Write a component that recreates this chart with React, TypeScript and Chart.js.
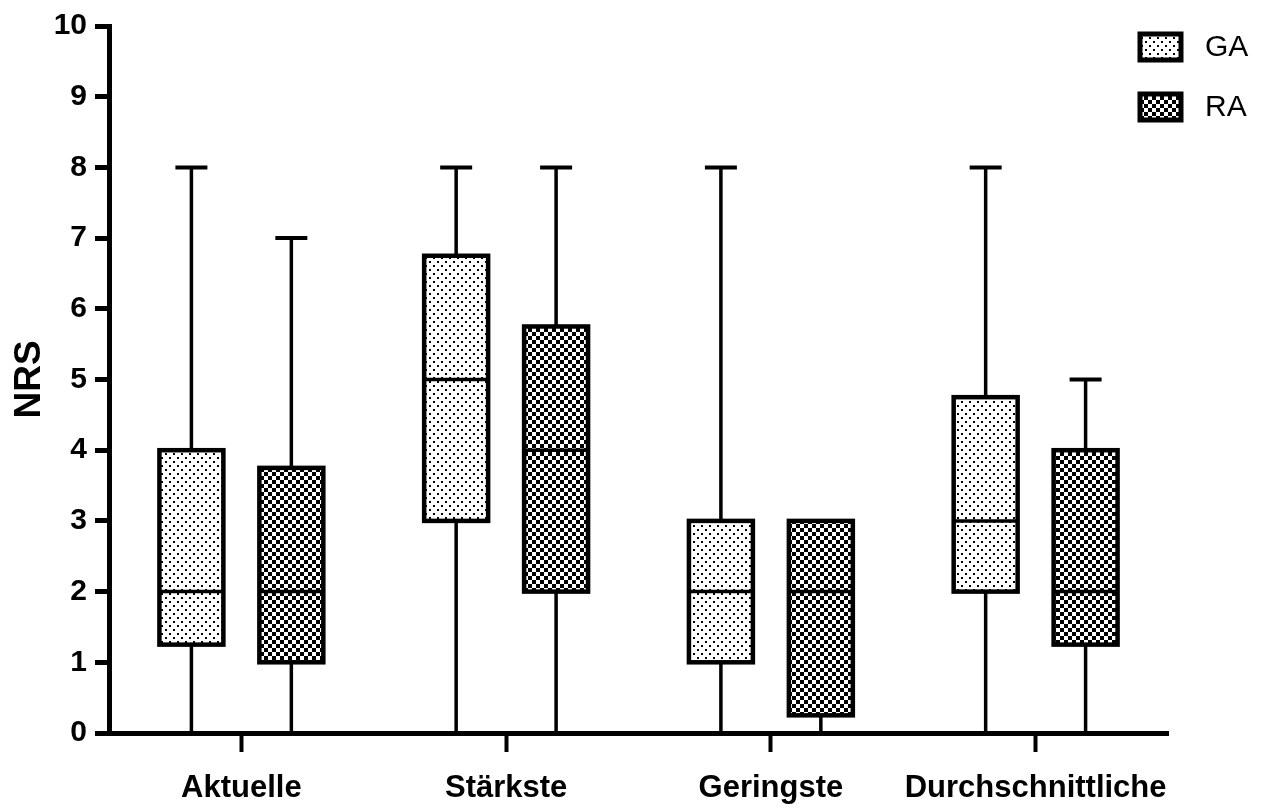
import React, { useEffect, useRef } from "react";
import { Chart, registerables } from "chart.js";

Chart.register(...registerables);

const categories = ["Aktuelle", "Stärkste", "Geringste", "Durchschnittliche"];
const seriesNames = ["GA", "RA"];

const gaMin = [0, 0, 0, 0];
const gaQ1 = [1.25, 3, 1, 2];
const gaMedian = [2, 5, 2, 3];
const gaQ3 = [4, 6.75, 3, 4.75];
const gaMax = [8, 8, 8, 8];

const raMin = [0, 0, 0, 0];
const raQ1 = [1, 2, 0.25, 1.25];
const raMedian = [2, 4, 2, 2];
const raQ3 = [3.75, 5.75, 3, 4];
const raMax = [7, 8, 3, 5];

const yTicks = [0, 1, 2, 3, 4, 5, 6, 7, 8, 9, 10];
const yTitle = "NRS";

const SANS = "'Liberation Sans', Arial, sans-serif";

function makeDots(): CanvasPattern | string {
  const c = document.createElement("canvas");
  c.width = 8;
  c.height = 8;
  const g = c.getContext("2d");
  if (!g) return "#fff";
  g.fillStyle = "#fff";
  g.fillRect(0, 0, 8, 8);
  g.fillStyle = "#000";
  g.fillRect(1, 1, 2, 2);
  g.fillRect(5, 5, 2, 2);
  return g.createPattern(c, "repeat") || "#fff";
}

function makeChecker(): CanvasPattern | string {
  const c = document.createElement("canvas");
  c.width = 8;
  c.height = 8;
  const g = c.getContext("2d");
  if (!g) return "#000";
  g.fillStyle = "#fff";
  g.fillRect(0, 0, 8, 8);
  g.fillStyle = "#000";
  g.fillRect(0, 0, 4, 4);
  g.fillRect(4, 4, 4, 4);
  return g.createPattern(c, "repeat") || "#000";
}

export default function App() {
  const ref = useRef<HTMLCanvasElement | null>(null);

  useEffect(() => {
    const canvas = ref.current;
    if (!canvas) return;
    const dots = makeDots();
    const checker = makeChecker();
    const stats = [
      { min: gaMin, q1: gaQ1, med: gaMedian, q3: gaQ3, max: gaMax },
      { min: raMin, q1: raQ1, med: raMedian, q3: raQ3, max: raMax },
    ];
    const fills = [dots, checker];

    const boxPlugin = {
      id: "boxwhisker",
      afterDatasetsDraw(chart: any) {
        const ctx = chart.ctx;
        const y = chart.scales.y;
        ctx.save();
        ctx.strokeStyle = "#000";
        ctx.lineCap = "butt";
        stats.forEach((s, di) => {
          const meta = chart.getDatasetMeta(di);
          meta.data.forEach((el: any, i: number) => {
            const x = el.x;
            const w = el.width;
            const left = x - w / 2;
            const pq1 = y.getPixelForValue(s.q1[i]);
            const pq3 = y.getPixelForValue(s.q3[i]);
            const pmed = y.getPixelForValue(s.med[i]);
            const pmin = y.getPixelForValue(s.min[i]);
            const pmax = y.getPixelForValue(s.max[i]);
            ctx.lineWidth = 3.5;
            ctx.beginPath();
            ctx.moveTo(x, pq3);
            ctx.lineTo(x, pmax);
            ctx.moveTo(x, pq1);
            ctx.lineTo(x, pmin);
            ctx.stroke();
            ctx.lineWidth = 4;
            ctx.beginPath();
            ctx.moveTo(x - 16, pmax);
            ctx.lineTo(x + 16, pmax);
            ctx.moveTo(x - 16, pmin);
            ctx.lineTo(x + 16, pmin);
            ctx.stroke();
            ctx.lineWidth = 3.5;
            ctx.beginPath();
            ctx.moveTo(left, pmed);
            ctx.lineTo(left + w, pmed);
            ctx.stroke();
            ctx.lineWidth = 4.5;
            ctx.strokeRect(left, pq3, w, pq1 - pq3);
          });
        });
        const legendY = [47, 107];
        seriesNames.forEach((name, i) => {
          const cy = legendY[i];
          ctx.fillStyle = fills[i];
          ctx.fillRect(1140, cy - 13, 41, 26);
          ctx.lineWidth = 5;
          ctx.strokeStyle = "#000";
          ctx.strokeRect(1140, cy - 13, 41, 26);
          ctx.fillStyle = "#000";
          ctx.font = "30px " + SANS;
          ctx.textAlign = "left";
          ctx.textBaseline = "middle";
          ctx.fillText(name, 1205, cy + 1);
        });
        ctx.restore();
      },
    };

    const chart = new Chart(canvas, {
      type: "bar",
      data: {
        labels: categories,
        datasets: stats.map((s, di) => ({
          label: seriesNames[di],
          data: s.q1.map((v, i) => [v, s.q3[i]]) as any,
          backgroundColor: fills[di] as any,
          borderWidth: 0,
          categoryPercentage: 0.755,
          barPercentage: 0.64,
        })),
      },
      options: {
        responsive: false,
        animation: false,
        devicePixelRatio: 1,
        layout: { padding: { top: 21, right: 97, left: 0, bottom: 0 } },
        plugins: {
          legend: { display: false },
          tooltip: { enabled: false },
        },
        scales: {
          x: {
            type: "category",
            grid: {
              display: true,
              drawOnChartArea: false,
              drawTicks: true,
              tickLength: 19,
              tickWidth: 4,
              color: "#000",
              offset: false,
            },
            border: { display: true, color: "#000", width: 5 },
            ticks: {
              color: "#000",
              padding: 18,
              maxRotation: 0,
              minRotation: 0,
              autoSkip: false,
              font: { family: SANS, size: 31, weight: "bold" },
            },
            afterFit: (s: any) => {
              s.height = 811 - 733;
            },
          },
          y: {
            min: 0,
            max: 10,
            afterBuildTicks: (s: any) => {
              s.ticks = yTicks.map((v) => ({ value: v }));
            },
            grid: {
              display: true,
              drawOnChartArea: false,
              drawTicks: true,
              tickLength: 14,
              tickWidth: 5,
              color: "#000",
            },
            border: { display: true, color: "#000", width: 5 },
            ticks: {
              color: "#000",
              padding: 8,
              font: { family: SANS, size: 30, weight: "bold" },
            },
            title: {
              display: true,
              text: yTitle,
              color: "#000",
              padding: { top: 8, bottom: 0 },
              font: { family: SANS, size: 37, weight: "bold" },
            },
            afterFit: (s: any) => {
              s.width = 109;
            },
          },
        },
      },
      plugins: [boxPlugin],
    } as any);
    return () => chart.destroy();
  }, []);

  return (
    <div style={{ position: "fixed", left: 0, top: 0, width: 1265, height: 811, background: "#fff" }}>
      <canvas ref={ref} width={1265} height={811} style={{ width: 1265, height: 811 }} />
    </div>
  );
}
